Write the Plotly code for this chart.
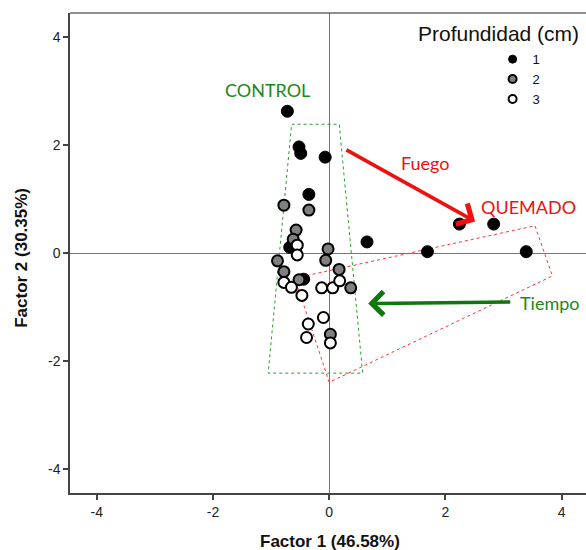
import plotly.graph_objects as go

# ---- data ----
black_x = [-0.72, -0.52, -0.49, -0.07, -0.35, -0.68, 0.65, 2.24, 2.83, 1.69, 3.39, -0.44]
black_y = [2.63, 1.97, 1.85, 1.78, 1.09, 0.11, 0.21, 0.54, 0.54, 0.03, 0.03, -0.48]

gray_x = [-0.78, -0.35, -0.57, -0.62, -0.02, -0.06, -0.89, -0.78, 0.17, -0.52, 0.37, 0.02]
gray_y = [0.89, 0.80, 0.43, 0.26, 0.08, -0.13, -0.14, -0.34, -0.30, -0.49, -0.64, -1.50]

white_x = [-0.55, -0.55, -0.78, -0.65, -0.47, -0.13, 0.06, 0.18, -0.10, -0.36, -0.39, 0.02]
white_y = [0.15, -0.03, -0.54, -0.63, -0.78, -0.64, -0.64, -0.51, -1.19, -1.31, -1.56, -1.66]

control_poly_x = [-0.647, 0.172, 0.575, -1.05, -0.647]
control_poly_y = [2.39, 2.39, -2.22, -2.22, 2.39]

burn_poly_x = [-0.59, 3.54, 3.84, 0.0, -0.59]
burn_poly_y = [-0.46, 0.51, -0.42, -2.39, -0.46]

fuego_arrow = dict(x0=0.27, y0=1.93, x1=2.51, y1=0.59)
tiempo_arrow = dict(x0=3.14, y0=-0.90, x1=0.67, y1=-0.93)

tick_vals = [-4, -2, 0, 2, 4]
tick_text = ["-4", "-2", "0", "2", "4"]
legend_labels = ["1", "2", "3"]

GREEN = "#1a8a1a"
GREEN_ARROW = "#0b7a0b"
RED = "#f01010"
TXT_FONT = "Lato"
AX_FONT = "Liberation Sans"

fig = go.Figure()

# polygons
fig.add_trace(go.Scatter(x=control_poly_x, y=control_poly_y, mode="lines",
                         line=dict(color="#2aa02a", width=1, dash="dot"),
                         showlegend=False, hoverinfo="skip"))
fig.add_trace(go.Scatter(x=burn_poly_x, y=burn_poly_y, mode="lines",
                         line=dict(color="#ff3333", width=1, dash="dot"),
                         showlegend=False, hoverinfo="skip"))

MS = 11
fig.add_trace(go.Scatter(x=black_x, y=black_y, mode="markers",
                         marker=dict(size=MS + 1, color="black", line=dict(color="black", width=1)),
                         showlegend=False))
fig.add_trace(go.Scatter(x=gray_x, y=gray_y, mode="markers",
                         marker=dict(size=MS, color="#808080", line=dict(color="black", width=2)),
                         showlegend=False))
fig.add_trace(go.Scatter(x=white_x, y=white_y, mode="markers",
                         marker=dict(size=MS, color="white", line=dict(color="black", width=2)),
                         showlegend=False))

# legend-only traces
for lab, col in zip(legend_labels, ["black", "#808080", "white"]):
    fig.add_trace(go.Scatter(x=[None], y=[None], mode="markers", name=lab,
                             marker=dict(size=8, color=col, line=dict(color="black", width=2 if col != "black" else 1))))

annotations = [
    # arrows
    dict(x=fuego_arrow["x1"], y=fuego_arrow["y1"], ax=fuego_arrow["x0"], ay=fuego_arrow["y0"],
         xref="x", yref="y", axref="x", ayref="y", text="", showarrow=True,
         arrowhead=4, arrowsize=1.3, arrowwidth=3.5, arrowcolor=RED),
    dict(x=tiempo_arrow["x1"], y=tiempo_arrow["y1"], ax=tiempo_arrow["x0"], ay=tiempo_arrow["y0"],
         xref="x", yref="y", axref="x", ayref="y", text="", showarrow=True,
         arrowhead=4, arrowsize=1.3, arrowwidth=3.5, arrowcolor=GREEN_ARROW),
    # labels
    dict(x=-1.07, y=3.02, xref="x", yref="y", text="CONTROL", showarrow=False,
         font=dict(family=TXT_FONT, size=18, color=GREEN)),
    dict(x=1.64, y=1.67, xref="x", yref="y", text="Fuego", showarrow=False,
         font=dict(family=TXT_FONT, size=18, color=RED)),
    dict(x=3.43, y=0.86, xref="x", yref="y", text="QUEMADO", showarrow=False,
         font=dict(family=TXT_FONT, size=18, color=RED)),
    dict(x=3.80, y=-0.93, xref="x", yref="y", text="Tiempo", showarrow=False,
         font=dict(family=TXT_FONT, size=18, color=GREEN)),
    # legend title
    dict(x=0.831, y=0.958, xref="paper", yref="paper", text="Profundidad (cm)", showarrow=False,
         font=dict(family=AX_FONT, size=21, color="#111"), xanchor="center", yanchor="middle"),
    # axis titles
    dict(x=0.504, y=-0.1, xref="paper", yref="paper", text="<b>Factor 1 (46.58%)</b>", showarrow=False,
         font=dict(family=AX_FONT, size=17, color="#111"), xanchor="center", yanchor="middle"),
    dict(x=-0.093, y=0.49, xref="paper", yref="paper", text="<b>Factor 2 (30.35%)</b>", showarrow=False,
         textangle=-90, font=dict(family=AX_FONT, size=17, color="#111"), xanchor="center", yanchor="middle"),
]

axis_common = dict(
    tickvals=tick_vals, ticktext=tick_text, ticks="outside", ticklen=5, tickwidth=1.5,
    tickcolor="#444", showgrid=False, zeroline=True, zerolinecolor="#777", zerolinewidth=1,
    showline=True, linecolor="#444", linewidth=1.5,
    tickfont=dict(family=AX_FONT, size=14, color="#222"),
)

fig.update_layout(
    width=586, height=550,
    margin=dict(l=70, r=0, t=13, b=57),
    paper_bgcolor="white", plot_bgcolor="white",
    xaxis=dict(range=[-4.46, 4.418], **axis_common),
    yaxis=dict(range=[-4.44, 4.45], **axis_common),
    annotations=annotations,
    shapes=[dict(type="line", xref="paper", yref="paper", x0=0, x1=1, y0=1, y1=1,
                 line=dict(color="#222", width=1.2))],
    showlegend=True,
    legend=dict(x=0.819, y=0.935, xanchor="left", yanchor="top", bgcolor="rgba(0,0,0,0)",
                font=dict(family=AX_FONT, size=13, color="#111"), tracegroupgap=0,
                itemsizing="trace"),
)

fig.write_html(
    "out.html",
    config={"displayModeBar": False},
    post_script="document.body.style.margin='0';document.body.style.padding='0';"
                "document.documentElement.style.overflow='hidden';",
)
